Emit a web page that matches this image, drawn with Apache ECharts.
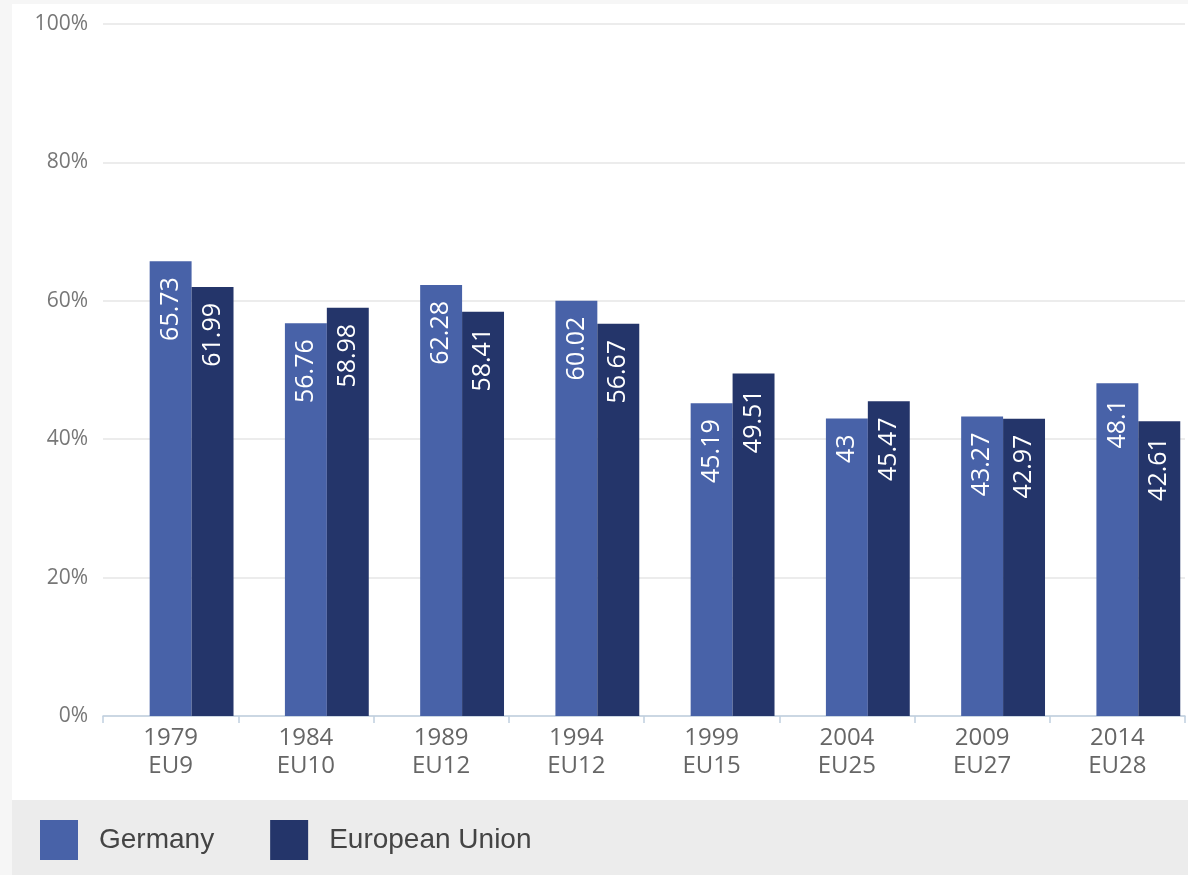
<!DOCTYPE html>
<html>
<head>
<meta charset="utf-8">
<script src="https://cdn.jsdelivr.net/npm/echarts@6/dist/echarts.min.js"></script>
<style>html,body{margin:0;padding:0;background:#f6f6f6;}#c{width:1188px;height:875px;}</style>
</head>
<body>
<div id="c"></div>
<script>
const years = ['1979', '1984', '1989', '1994', '1999', '2004', '2009', '2014'];
const groups = ['EU9', 'EU10', 'EU12', 'EU12', 'EU15', 'EU25', 'EU27', 'EU28'];
const germany = [65.73, 56.76, 62.28, 60.02, 45.19, 43, 43.27, 48.1];
const eu = [61.99, 58.98, 58.41, 56.67, 49.51, 45.47, 42.97, 42.61];
const yTicks = [0, 20, 40, 60, 80, 100];

const categories = years.map((y, i) => y + '\n' + groups[i]);
const chart = echarts.init(document.getElementById('c'));
const barLabel = {
  show: true, position: 'insideTop', rotate: 90, align: 'right', verticalAlign: 'middle',
  distance: 16, color: '#ffffff', fontSize: 25, fontFamily: 'Open Sans',
  formatter: p => String(p.value)
};
chart.setOption({
  animation: false,
  backgroundColor: '#f6f6f6',
  graphic: [
    { type: 'rect', shape: { x: 12, y: 4, width: 1176, height: 796 }, style: { fill: '#ffffff' }, z: -10 },
    { type: 'rect', shape: { x: 12, y: 800, width: 1176, height: 75 }, style: { fill: '#ececec' }, z: -10 }
  ],
  grid: { left: 103, right: 3, top: 24, bottom: 159 },
  legend: {
    left: 40, top: 820, padding: 0, itemWidth: 38, itemHeight: 40, itemGap: 56,
    icon: 'rect', data: ['Germany', 'European Union'],
    textStyle: { fontFamily: 'Liberation Sans', fontSize: 28, color: '#444', padding: [0, 0, 0, 16] }
  },
  xAxis: {
    type: 'category', data: categories,
    axisLine: { lineStyle: { color: '#c0d0e0', width: 1.5 } },
    axisTick: { show: true, length: 7, lineStyle: { color: '#c0d0e0', width: 1.5 } },
    axisLabel: { fontFamily: 'Open Sans', fontSize: 24, color: '#666', lineHeight: 28, margin: 8 }
  },
  yAxis: {
    type: 'value', min: 0, max: 100, interval: 20,
    axisLabel: { formatter: v => yTicks.includes(v) ? v + '%' : '', fontFamily: 'Open Sans', fontSize: 21, color: '#777', margin: 15 },
    splitLine: { lineStyle: { color: '#e6e6e6', width: 1.5 } },
    axisLine: { show: false }, axisTick: { show: false }
  },
  series: [
    { name: 'spacer', type: 'bar', data: germany.map(() => null), barWidth: '31%', barGap: '0%', silent: true, itemStyle: { color: 'transparent' } },
    { name: 'Germany', type: 'bar', data: germany, barWidth: '31%', barGap: '0%', itemStyle: { color: '#4862a8' }, label: barLabel },
    { name: 'European Union', type: 'bar', data: eu, barWidth: '31%', barGap: '0%', itemStyle: { color: '#24356a' }, label: barLabel }
  ]
});
</script>
</body>
</html>
